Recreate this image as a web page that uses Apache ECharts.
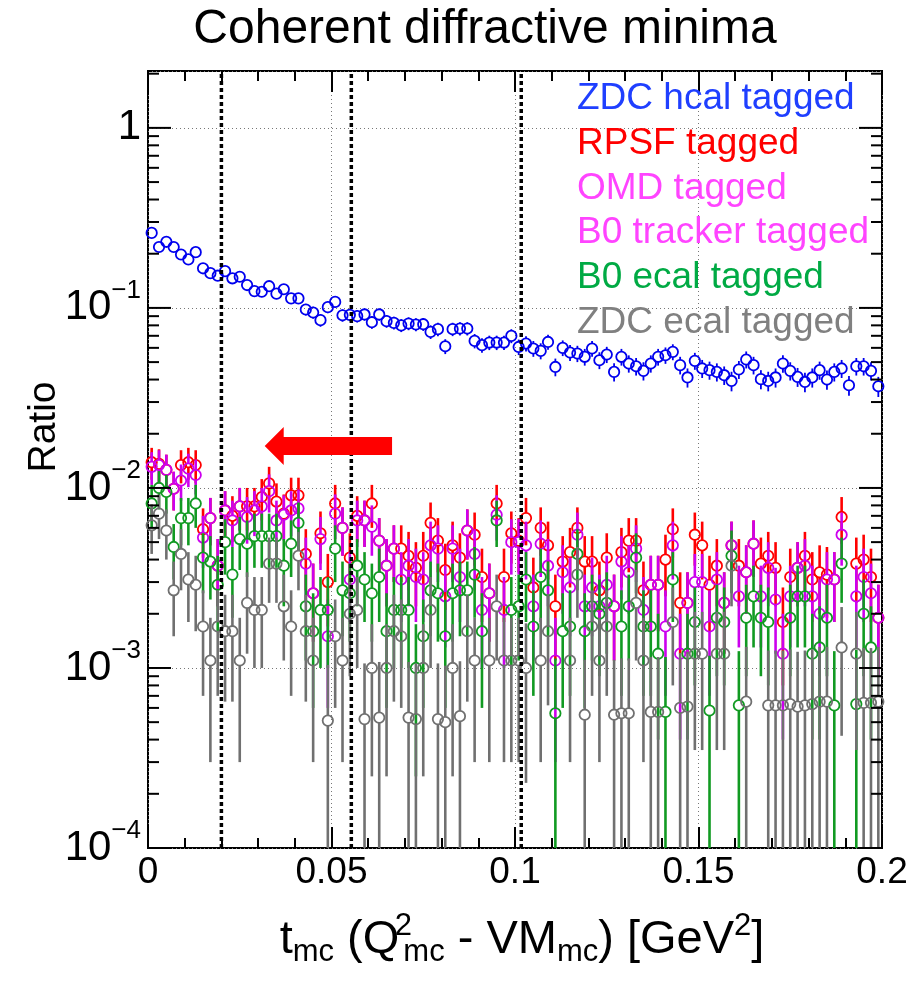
<!DOCTYPE html>
<html>
<head>
<meta charset="utf-8">
<script src="https://cdn.jsdelivr.net/npm/echarts@6/dist/echarts.min.js"></script>
<style>
  html, body { margin: 0; padding: 0; background: #fff; }
  #chart { width: 919px; height: 982px; }
</style>
</head>
<body>
<div id="chart"></div>
<script>
// t bin centres [GeV^2], 100 bins of 0.002
const tBins = [
  0.001, 0.003, 0.005, 0.007, 0.009, 0.011, 0.013, 0.015, 0.017, 0.019,
  0.021, 0.023, 0.025, 0.027, 0.029, 0.031, 0.033, 0.035, 0.037, 0.039,
  0.041, 0.043, 0.045, 0.047, 0.049, 0.051, 0.053, 0.055, 0.057, 0.059,
  0.061, 0.063, 0.065, 0.067, 0.069, 0.071, 0.073, 0.075, 0.077, 0.079,
  0.081, 0.083, 0.085, 0.087, 0.089, 0.091, 0.093, 0.095, 0.097, 0.099,
  0.101, 0.103, 0.105, 0.107, 0.109, 0.111, 0.113, 0.115, 0.117, 0.119,
  0.121, 0.123, 0.125, 0.127, 0.129, 0.131, 0.133, 0.135, 0.137, 0.139,
  0.141, 0.143, 0.145, 0.147, 0.149, 0.151, 0.153, 0.155, 0.157, 0.159,
  0.161, 0.163, 0.165, 0.167, 0.169, 0.171, 0.173, 0.175, 0.177, 0.179,
  0.181, 0.183, 0.185, 0.187, 0.189, 0.191, 0.193, 0.195, 0.197, 0.199
]

// ZDC hcal tagged
const zdcHcal = [
  0.261, 0.218, 0.233, 0.218, 0.198, 0.186, 0.204, 0.166, 0.156, 0.151,
  0.160, 0.146, 0.149, 0.134, 0.124, 0.123, 0.132, 0.120, 0.127, 0.113,
  0.113, 0.098, 0.0943, 0.0855, 0.101, 0.108, 0.091, 0.0915, 0.090, 0.092,
  0.0833, 0.092, 0.0844, 0.0826, 0.080, 0.0819, 0.0809, 0.0812, 0.0736, 0.0762,
  0.0612, 0.0762, 0.0768, 0.0768, 0.0656, 0.0621, 0.0642, 0.0642, 0.0642, 0.0699,
  0.0607, 0.0634, 0.0595, 0.0577, 0.0647, 0.0470, 0.0600, 0.0565, 0.0558, 0.0535,
  0.0595, 0.0512, 0.0551, 0.0441, 0.0535, 0.0491, 0.0474, 0.0447, 0.0491, 0.0535,
  0.0546, 0.0570, 0.0481, 0.0411, 0.0508, 0.0461, 0.0451, 0.0441, 0.0423, 0.0393,
  0.0455, 0.0517, 0.0481, 0.0402, 0.0393, 0.0411, 0.0491, 0.0447, 0.0414, 0.0388,
  0.0411, 0.0451, 0.0400, 0.0441, 0.0461, 0.0372, 0.0474, 0.0474, 0.0447, 0.0367
]
const zdcHcalErr = [
  0.0120, 0.0110, 0.0113, 0.0110, 0.0104, 0.0101, 0.0106, 0.0096, 0.0093, 0.0091,
  0.0094, 0.0090, 0.0091, 0.0086, 0.0083, 0.0082, 0.0085, 0.0081, 0.0084, 0.0079,
  0.0079, 0.0073, 0.0072, 0.0069, 0.0075, 0.0077, 0.0071, 0.0071, 0.0070, 0.0071,
  0.0068, 0.0071, 0.0068, 0.0067, 0.0066, 0.0067, 0.0067, 0.0067, 0.0064, 0.0065,
  0.0058, 0.0065, 0.0065, 0.0065, 0.0060, 0.0058, 0.0059, 0.0059, 0.0059, 0.0062,
  0.0060, 0.0062, 0.0060, 0.0059, 0.0062, 0.0053, 0.0060, 0.0058, 0.0058, 0.0057,
  0.0060, 0.0055, 0.0057, 0.0051, 0.0057, 0.0054, 0.0053, 0.0052, 0.0054, 0.0057,
  0.0057, 0.0058, 0.0054, 0.0050, 0.0055, 0.0053, 0.0052, 0.0051, 0.0050, 0.0049,
  0.0052, 0.0056, 0.0054, 0.0049, 0.0049, 0.0050, 0.0054, 0.0052, 0.0050, 0.0048,
  0.0050, 0.0052, 0.0049, 0.0051, 0.0053, 0.0047, 0.0053, 0.0053, 0.0052, 0.0047
]

// RPSF tagged
const rpsf = [
  0.0139, 0.0136, 0.0126, 0.0099, 0.0134, 0.0139, 0.0134, 0.0059, 0.0068, 0.0037,
  0.0075, 0.0070, 0.0079, 0.0079, 0.0079, 0.0089, 0.0106, 0.0084, 0.0072, 0.0091,
  0.0091, 0.0043, 0.0026, 0.0056, 0.0030, 0.0082, 0.0060, 0.0041, 0.0070, 0.0066,
  0.0082, 0.0051, 0.0037, 0.0046, 0.0046, 0.0042, 0.0036, 0.0042, 0.0064, 0.0051,
  0.0035, 0.0048, 0.0041, 0.0058, 0.0055, 0.0032, 0.0026, 0.0082, 0.0032, 0.0056,
  0.0051, 0.0068, 0.0028, 0.0060, 0.0048, 0.0022, 0.0039, 0.0044, 0.0060, 0.0039,
  0.0039, 0.0027, 0.0041, 0.0022, 0.0044, 0.0051, 0.0051, 0.0027, 0.0029, 0.0029,
  0.0040, 0.0059, 0.0023, 0.0023, 0.0055, 0.0048, 0.0029, 0.0037, 0.0023, 0.0048,
  0.0037, 0.0034, 0.0049, 0.0038, 0.0042, 0.0036, 0.0018, 0.0032, 0.0036, 0.0042,
  0.0031, 0.0034, 0.0033, 0.0031, 0.0069, null, 0.0038, 0.0040, 0.0032, 0.0019
]
const rpsfErr = [
  0.0028, 0.0028, 0.0027, 0.0024, 0.0028, 0.0028, 0.0028, 0.0018, 0.0020, 0.0015,
  0.0021, 0.0020, 0.0021, 0.0021, 0.0021, 0.0023, 0.0025, 0.0022, 0.0020, 0.0023,
  0.0023, 0.0016, 0.0012, 0.0018, 0.0013, 0.0022, 0.0018, 0.0015, 0.0020, 0.0019,
  0.0022, 0.0017, 0.0015, 0.0016, 0.0016, 0.0015, 0.0014, 0.0015, 0.0019, 0.0017,
  0.0014, 0.0017, 0.0015, 0.0018, 0.0018, 0.0014, 0.0012, 0.0022, 0.0014, 0.0018,
  0.0017, 0.0020, 0.0013, 0.0018, 0.0017, 0.0011, 0.0015, 0.0016, 0.0018, 0.0015,
  0.0015, 0.0012, 0.0015, 0.0011, 0.0016, 0.0017, 0.0017, 0.0012, 0.0013, 0.0013,
  0.0015, 0.0018, 0.0011, 0.0011, 0.0018, 0.0017, 0.0013, 0.0015, 0.0011, 0.0017,
  0.0015, 0.0014, 0.0017, 0.0015, 0.0015, 0.0014, 0.0010, 0.0014, 0.0014, 0.0015,
  0.0013, 0.0014, 0.0014, 0.0013, 0.0020, null, 0.0015, 0.0015, 0.0014, 0.0010
]

// B0 tracker tagged (OMD tagged points lie underneath these)
const b0Tracker = [
  0.0131, 0.0134, 0.0126, 0.0099, 0.0110, 0.0128, 0.0118, 0.0053, 0.0068, 0.0037,
  0.0075, 0.0066, 0.0079, 0.0069, 0.0075, 0.0079, 0.0096, 0.0066, 0.0071, 0.0075,
  0.0077, 0.0038, 0.0026, 0.0052, 0.0015, 0.0072, 0.0060, 0.0031, 0.0066, 0.0066,
  0.0061, 0.0051, 0.0037, 0.0046, 0.0031, 0.0037, 0.0032, 0.0031, 0.0048, 0.0046,
  0.0025, 0.0046, 0.0032, 0.0058, 0.0043, 0.0021, 0.0026, 0.0071, 0.0021, 0.0050,
  0.0050, 0.0048, 0.0022, 0.0049, 0.0037, 0.0011, 0.0034, 0.0028, 0.0055, 0.0022,
  0.0028, 0.0022, 0.0029, 0.0022, 0.0039, 0.0034, 0.0046, 0.0021, 0.0029, 0.0029,
  0.0017, 0.0048, 0.0012, 0.0023, 0.0030, 0.0030, 0.0017, 0.0031, 0.0023, 0.0048,
  0.0025, 0.0034, 0.0049, 0.0025, 0.0036, 0.0024, 0.0012, 0.0025, 0.0036, 0.0037,
  0.0025, 0.0020, 0.0031, 0.0031, 0.0055, null, 0.0025, 0.0032, 0.0026, 0.0019
]
const b0TrackerErr = [
  0.0027, 0.0028, 0.0027, 0.0024, 0.0025, 0.0027, 0.0026, 0.0017, 0.0020, 0.0015,
  0.0021, 0.0019, 0.0021, 0.0020, 0.0021, 0.0021, 0.0023, 0.0019, 0.0020, 0.0021,
  0.0021, 0.0015, 0.0012, 0.0017, 0.0009, 0.0020, 0.0018, 0.0013, 0.0019, 0.0019,
  0.0019, 0.0017, 0.0015, 0.0016, 0.0013, 0.0015, 0.0014, 0.0013, 0.0017, 0.0016,
  0.0012, 0.0016, 0.0014, 0.0018, 0.0016, 0.0011, 0.0012, 0.0020, 0.0011, 0.0017,
  0.0017, 0.0017, 0.0011, 0.0017, 0.0015, 0.0008, 0.0014, 0.0013, 0.0018, 0.0011,
  0.0013, 0.0011, 0.0013, 0.0011, 0.0015, 0.0014, 0.0016, 0.0011, 0.0013, 0.0013,
  0.0010, 0.0017, 0.0008, 0.0011, 0.0013, 0.0013, 0.0010, 0.0013, 0.0011, 0.0017,
  0.0012, 0.0014, 0.0017, 0.0012, 0.0014, 0.0012, 0.0008, 0.0012, 0.0014, 0.0015,
  0.0012, 0.0011, 0.0013, 0.0013, 0.0018, null, 0.0012, 0.0014, 0.0012, 0.0010
]

// B0 ecal tagged
const b0Ecal = [
  0.0082, 0.0100, 0.0095, 0.0047, 0.0068, 0.0068, 0.0082, 0.0041, 0.0039, 0.0029,
  0.0050, 0.0033, 0.0052, 0.0049, 0.0054, 0.0054, 0.0054, 0.0054, 0.0037, 0.0049,
  0.0064, 0.0022, 0.0016, 0.0021, 0.0021, 0.0046, 0.0027, 0.0026, 0.0037, 0.0031,
  0.0026, 0.0032, 0.0016, 0.0021, 0.0021, 0.0021, 0.0010, 0.0015, 0.0027, 0.0026,
  0.0015, 0.0026, 0.0027, 0.0027, 0.0033, 0.0016, null, 0.0066, null, 0.0021,
  0.0022, 0.0031, 0.0017, 0.0032, 0.0027, 0.00056, 0.0016, 0.0017, 0.0043, 0.0016,
  0.0022, 0.0020, 0.0023, null, 0.0017, 0.0022, 0.0041, 0.0017, 0.0017, 0.0012,
  0.00057, 0.0031, null, 0.0012, 0.0018, null, 0.00058, 0.0019, 0.0018, 0.0042,
  0.00062, 0.0019, 0.0025, 0.0019, 0.0018, null, null, 0.0019, 0.0025, 0.0025,
  0.0012, 0.0013, 0.0019, 0.00062, 0.0038, null, 0.00063, 0.0020, 0.0013, null
]
const b0EcalErr = [
  0.0022, 0.0024, 0.0023, 0.0016, 0.0020, 0.0020, 0.0022, 0.0015, 0.0015, 0.0013,
  0.0017, 0.0014, 0.0017, 0.0017, 0.0018, 0.0018, 0.0018, 0.0018, 0.0015, 0.0017,
  0.0019, 0.0011, 0.0010, 0.0011, 0.0011, 0.0016, 0.0012, 0.0012, 0.0015, 0.0013,
  0.0012, 0.0014, 0.0010, 0.0011, 0.0011, 0.0011, 0.00075, 0.0009, 0.0012, 0.0012,
  0.0009, 0.0012, 0.0012, 0.0012, 0.0014, 0.0010, null, 0.0019, null, 0.0011,
  0.0011, 0.0013, 0.0010, 0.0014, 0.0012, 0.00057, 0.0010, 0.0010, 0.0016, 0.0010,
  0.0011, 0.0011, 0.0011, null, 0.0010, 0.0011, 0.0015, 0.0010, 0.0010, 0.0008,
  0.00058, 0.0013, null, 0.0008, 0.0010, null, 0.00059, 0.0010, 0.0010, 0.0016,
  0.00062, 0.0010, 0.0012, 0.0010, 0.0010, null, null, 0.0010, 0.0012, 0.0012,
  0.0008, 0.0009, 0.0010, 0.00062, 0.0015, null, 0.00063, 0.0011, 0.0009, null
]

// ZDC ecal tagged
const zdcEcal = [
  0.0062, 0.0072, 0.0058, 0.0027, 0.0043, 0.0031, 0.0029, 0.0017, 0.0011, 0.0017,
  0.0016, 0.0016, 0.0011, 0.0023, 0.0021, 0.0021, 0.0038, 0.0038, 0.0022, 0.0017,
  0.0042, 0.0016, 0.0011, null, 0.00051, 0.0015, 0.0011, 0.0020, 0.0021, 0.00052,
  0.0010, 0.00053, 0.0010, 0.0016, 0.0015, 0.00053, 0.00052, 0.0010, 0.0021, 0.00052,
  0.00050, 0.0010, 0.00054, 0.0016, 0.0011, null, 0.0011, 0.0022, 0.0011, 0.0011,
  0.0011, 0.0010, null, 0.0011, 0.0016, null, null, 0.0011, 0.0033, 0.00055,
  0.0017, 0.0011, 0.0017, 0.00055, 0.00056, 0.00056, 0.0023, 0.0011, 0.00057, 0.00057,
  null, 0.0018, 0.00060, 0.00061, 0.0012, 0.0012, null, 0.0012, 0.0012, 0.0037,
  null, 0.00065, null, null, 0.00062, 0.00062, 0.00062, 0.00063, 0.00061, 0.00062,
  0.00063, 0.00065, 0.00065, null, 0.0013, null, 0.0012, 0.00064, 0.00064, 0.00065
]
const zdcEcalErr = [
  0.0019, 0.0020, 0.0018, 0.0012, 0.0016, 0.0013, 0.0013, 0.0010, 0.0008, 0.0010,
  0.00095, 0.00095, 0.0008, 0.0011, 0.0011, 0.0011, 0.0015, 0.0015, 0.0011, 0.0010,
  0.0015, 0.00095, 0.0008, null, 0.00053, 0.0009, 0.0008, 0.0011, 0.0011, 0.00054,
  0.00075, 0.00055, 0.00075, 0.00095, 0.0009, 0.00055, 0.00054, 0.00075, 0.0011, 0.00054,
  0.00053, 0.00075, 0.00055, 0.00095, 0.0008, null, 0.0008, 0.0011, 0.0008, 0.0008,
  0.0008, 0.00077, null, 0.0008, 0.00098, null, null, 0.0008, 0.0014, 0.00056,
  0.0010, 0.0008, 0.0010, 0.00056, 0.00057, 0.00057, 0.0012, 0.0008, 0.00058, 0.00058,
  null, 0.0010, 0.00061, 0.00062, 0.00085, 0.00085, null, 0.00085, 0.00085, 0.0015,
  null, 0.00066, null, null, 0.00063, 0.00063, 0.00063, 0.00064, 0.00062, 0.00063,
  0.00064, 0.00066, 0.00066, null, 0.00088, null, 0.00085, 0.00065, 0.00065, 0.00066
]

// positions of the coherent diffractive minima (dotted lines)
const minimaT = [0.02, 0.0554, 0.1017]
// arrow: tail t, tip t, ratio level
const arrowTail = 0.0665
const arrowTip = 0.0318
const arrowLevel = 0.0171

const legendNames = ['ZDC hcal tagged', 'RPSF tagged', 'OMD tagged', 'B0 tracker tagged', 'B0 ecal tagged', 'ZDC ecal tagged']
const legendColors = ['#1f3fff', '#ff0000', '#ff44ff', '#ff44ff', '#00aa44', '#808080']

const yMin = 1e-4
const yMax = 2.07
const FONT = '"Liberation Sans", Arial, Helvetica, sans-serif'

const pointsOf = (vals, errs) => {
  let out = []
  vals.forEach((v, i) => {
    if (v != null) out.push([tBins[i], v, errs[i]])
  })
  return out
}

// ROOT-like points: open circle + vertical error bar that stops at the marker
const errorSeries = (name, color, vals, errs, barWidth) => {
  return {
    name: name,
    type: 'custom',
    coordinateSystem: 'cartesian2d',
    silent: true,
    data: pointsOf(vals, errs),
    encode: { x: 0, y: 1 },
    renderItem: (params, api) => {
      let cs = params.coordSys
      let x = api.value(0), v = api.value(1), e = api.value(2)
      let c = api.coord([x, v])
      let r = 5.2
      let top = Math.max(api.coord([x, v + e])[1], cs.y)
      let bot = v - e > 0 ? api.coord([x, v - e])[1] : cs.y + cs.height
      bot = Math.min(bot, cs.y + cs.height)
      let children = []
      if (top < c[1] - r) {
        children.push({ type: 'line', shape: { x1: c[0], y1: top, x2: c[0], y2: c[1] - r }, style: { stroke: color, lineWidth: barWidth } })
      }
      if (bot > c[1] + r) {
        children.push({ type: 'line', shape: { x1: c[0], y1: c[1] + r, x2: c[0], y2: bot }, style: { stroke: color, lineWidth: barWidth } })
      }
      children.push({ type: 'circle', shape: { cx: c[0], cy: c[1], r: r }, style: { fill: 'none', stroke: color, lineWidth: 1.8 } })
      return { type: 'group', children: children }
    }
  }
}

// y ticks (log axis): decades long, 2..9 short, on left and right
let yTickData = []
for (let d = -4; d <= 0; d++) {
  for (let k = 1; k <= 9; k++) {
    let v = k * Math.pow(10, d)
    if (v >= yMin && v <= yMax) yTickData.push([0, v, k === 1 ? 1 : 0])
  }
}

const chart = echarts.init(document.getElementById('chart'))

const option = {
  animation: false,
  backgroundColor: '#fff',
  grid: { left: 148, right: 37, top: 71, bottom: 134, show: true, borderColor: '#000', borderWidth: 2, backgroundColor: 'transparent' },
  xAxis: [
    {
      type: 'value', min: 0, max: 0.2, interval: 0.05,
      axisLine: { show: false },
      axisTick: { inside: true, length: 21, lineStyle: { color: '#000', width: 2 } },
      minorTick: { show: true, splitNumber: 5, length: 10, lineStyle: { color: '#000', width: 2 } },
      axisLabel: { fontSize: 37, color: '#000', fontFamily: FONT, margin: 6 },
      splitLine: { show: true, lineStyle: { color: '#777', width: 1, type: [1, 3] } }
    },
    {
      type: 'value', min: 0, max: 0.2, interval: 0.05, position: 'top',
      axisLine: { show: false },
      axisTick: { inside: true, length: 21, lineStyle: { color: '#000', width: 2 } },
      minorTick: { show: true, splitNumber: 5, length: 10, lineStyle: { color: '#000', width: 2 } },
      axisLabel: { show: false },
      splitLine: { show: false }
    }
  ],
  yAxis: {
    type: 'log', logBase: 10, min: yMin, max: yMax,
    axisLine: { show: false },
    axisTick: { show: false },
    axisLabel: {
      margin: 7,
      color: '#000',
      fontFamily: FONT,
      formatter: (v) => {
        let l = Math.log10(v)
        let e = Math.round(l)
        if (Math.abs(l - e) > 1e-6) return ''
        if (e === 0) return '{b|1}'
        return '{b|10}{s|\u2212' + (-e) + '}'
      },
      rich: {
        b: { fontSize: 42, fontFamily: FONT, color: '#000' },
        s: { fontSize: 26, fontFamily: FONT, color: '#000', padding: [0, 0, 34, 0] }
      }
    },
    splitLine: { show: true, lineStyle: { color: '#777', width: 1, type: [1, 3] } }
  },
  series: [
    {
      name: 'yticks', type: 'custom', silent: true, data: yTickData, encode: { x: 0, y: 1 }, z: 5,
      renderItem: (params, api) => {
        let cs = params.coordSys
        let y = api.coord([0, api.value(1)])[1]
        let len = api.value(2) ? 23 : 11
        return {
          type: 'group', children: [
            { type: 'line', shape: { x1: cs.x, y1: y, x2: cs.x + len, y2: y }, style: { stroke: '#000', lineWidth: 2 } },
            { type: 'line', shape: { x1: cs.x + cs.width, y1: y, x2: cs.x + cs.width - len, y2: y }, style: { stroke: '#000', lineWidth: 2 } }
          ]
        }
      }
    },
    errorSeries('ZDC hcal tagged', '#0000ee', zdcHcal, zdcHcalErr, 1.8),
    errorSeries('RPSF tagged', '#ff0000', rpsf, rpsfErr, 2.6),
    errorSeries('B0 tracker tagged', '#cc00ee', b0Tracker, b0TrackerErr, 2.6),
    errorSeries('B0 ecal tagged', '#119a22', b0Ecal, b0EcalErr, 2.6),
    errorSeries('ZDC ecal tagged', '#707070', zdcEcal, zdcEcalErr, 2.6),
    {
      name: 'minima', type: 'custom', silent: true, z: 6,
      data: minimaT.map(t => [t, yMin]), encode: { x: 0, y: 1 },
      renderItem: (params, api) => {
        let cs = params.coordSys
        let x = api.coord([api.value(0), yMin])[0]
        return { type: 'line', shape: { x1: x, y1: cs.y + cs.height, x2: x, y2: cs.y }, style: { stroke: '#000', lineWidth: 3.5, lineDash: [4, 3] } }
      }
    },
    {
      name: 'arrow', type: 'custom', silent: true, z: 7,
      data: [[arrowTail, arrowLevel, arrowTip]], encode: { x: 0, y: 1 },
      renderItem: (params, api) => {
        let tail = api.coord([api.value(0), api.value(1)])
        let tip = api.coord([api.value(2), api.value(1)])
        let y = tail[1], hx = tip[0] + 19
        return {
          type: 'polygon',
          shape: { points: [[tip[0], y], [hx, y - 19], [hx, y - 9], [tail[0], y - 9], [tail[0], y + 9], [hx, y + 9], [hx, y + 19]] },
          style: { fill: '#ff0000' }
        }
      }
    }
  ],
  graphic: [
    { type: 'text', x: 485, y: 30, style: { text: 'Coherent diffractive minima', fontSize: 48, fontFamily: FONT, fill: '#000', align: 'center', verticalAlign: 'middle' } },
    { type: 'text', x: 44, y: 427, rotation: Math.PI / 2, style: { text: 'Ratio', fontSize: 39, fontFamily: FONT, fill: '#000', align: 'center', verticalAlign: 'middle' } },
    {
      type: 'text', x: 522, y: 940,
      style: {
        text: '{m|t}{d|mc}{m| (Q}{u0|2}{d|mc}{m| - VM}{d|mc}{m|) [GeV}{u|2}{m|]}',
        align: 'center', verticalAlign: 'middle',
        rich: {
          m: { fontSize: 47, fontFamily: FONT, fill: '#000' },
          d: { fontSize: 31, fontFamily: FONT, fill: '#000', padding: [24, 0, 0, 0] },
          u: { fontSize: 31, fontFamily: FONT, fill: '#000', padding: [0, 0, 28, 0] },
          u0: { fontSize: 31, fontFamily: FONT, fill: '#000', padding: [0, 0, 28, 4], width: 0, align: 'left' }
        }
      }
    }
  ].concat(legendNames.map((n, i) => ({
    type: 'text', x: 577, y: 99 + i * 44.7, z: 10,
    style: { text: n, fontSize: 37, fontFamily: FONT, fill: legendColors[i], align: 'left', verticalAlign: 'middle' }
  })))
}

chart.setOption(option)
</script>
</body>
</html>
